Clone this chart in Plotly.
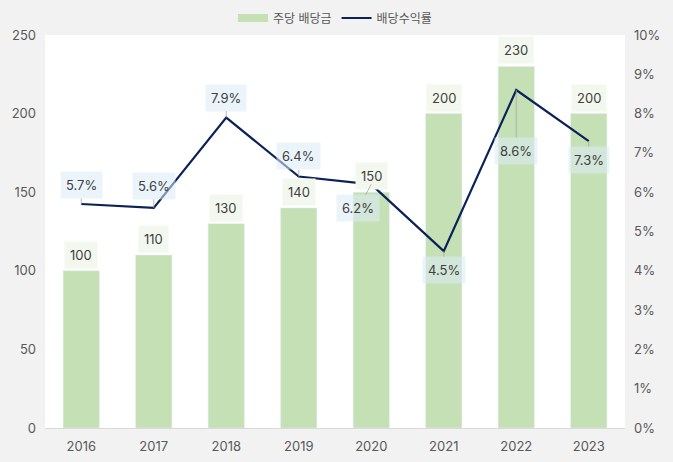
import plotly.graph_objects as go

years = ["2016", "2017", "2018", "2019", "2020", "2021", "2022", "2023"]
dividend = [100, 110, 130, 140, 150, 200, 230, 200]
yield_pct = [5.7, 5.6, 7.9, 6.4, 6.2, 4.5, 8.6, 7.3]

# label offsets (pixels) for yield labels
yield_offsets = [(0, -19), (0, -22), (0, -20), (0, -20), (-13, 24), (0, 19), (0, 61), (0, 19)]

FONT = "Inter, Noto Sans CJK KR, sans-serif"
TXT = "#404040"
GREEN = "#c5e0b4"

fig = go.Figure()
fig.add_trace(go.Bar(x=years, y=dividend, name="주당 배당금", marker_color=GREEN,
                     yaxis="y", showlegend=False))
# legend entry for bars as wide patch
fig.add_trace(go.Scatter(x=[None], y=[None], name="주당 배당금", mode="lines",
                         line=dict(color=GREEN, width=8), yaxis="y"))
fig.add_trace(go.Scatter(x=years, y=yield_pct, name="배당수익률", mode="lines",
                         line=dict(color="#0b2258", width=2.2), yaxis="y2"))

ann = []
for i, v in enumerate(dividend):
    ann.append(dict(x=i, y=v, xref="x", yref="y", text=str(v), showarrow=False,
                    yshift=16, bgcolor="#f3f8ef", borderpad=5,
                    font=dict(size=13, color=TXT, family=FONT)))
for i, (v, (dx, dy)) in enumerate(zip(yield_pct, yield_offsets)):
    ann.append(dict(x=i, y=v, xref="x", yref="y2", text=f"{v}%", showarrow=True,
                    arrowhead=0, arrowwidth=0.8, arrowcolor="#a6a6a6", ax=dx, ay=dy,
                    bgcolor="rgba(221,235,247,0.55)", borderpad=5,
                    font=dict(size=13, color=TXT, family=FONT)))

fig.update_layout(
    width=673, height=462,
    paper_bgcolor="#f2f2f2", plot_bgcolor="#ffffff",
    margin=dict(l=45, r=48, t=35, b=34, autoexpand=False),
    font=dict(family=FONT, size=13, color="#595959"),
    showlegend=True,
    legend=dict(orientation="h", x=0.5, xanchor="center", yref="container", y=0.961,
                yanchor="middle", bgcolor="rgba(0,0,0,0)",
                font=dict(size=12, color="#595959"), traceorder="normal"),
    bargap=0.5,
    xaxis=dict(type="category", range=[-0.5, 7.5], showgrid=False, showline=True,
               linecolor="#d9d9d9", linewidth=1, ticks="", ticklabelstandoff=6,
               tickfont=dict(size=13, color="#595959")),
    yaxis=dict(range=[0, 250], dtick=50, showgrid=False, zeroline=False,
               tickfont=dict(size=13, color="#595959"), ticks="", ticklabelstandoff=8),
    yaxis2=dict(range=[0, 10], dtick=1, overlaying="y", side="right", showgrid=False,
                zeroline=False, ticksuffix="%", tickfont=dict(size=13, color="#595959"),
                ticks="", ticklabelstandoff=8),
    annotations=ann,
)

fig.write_html("out.html")
